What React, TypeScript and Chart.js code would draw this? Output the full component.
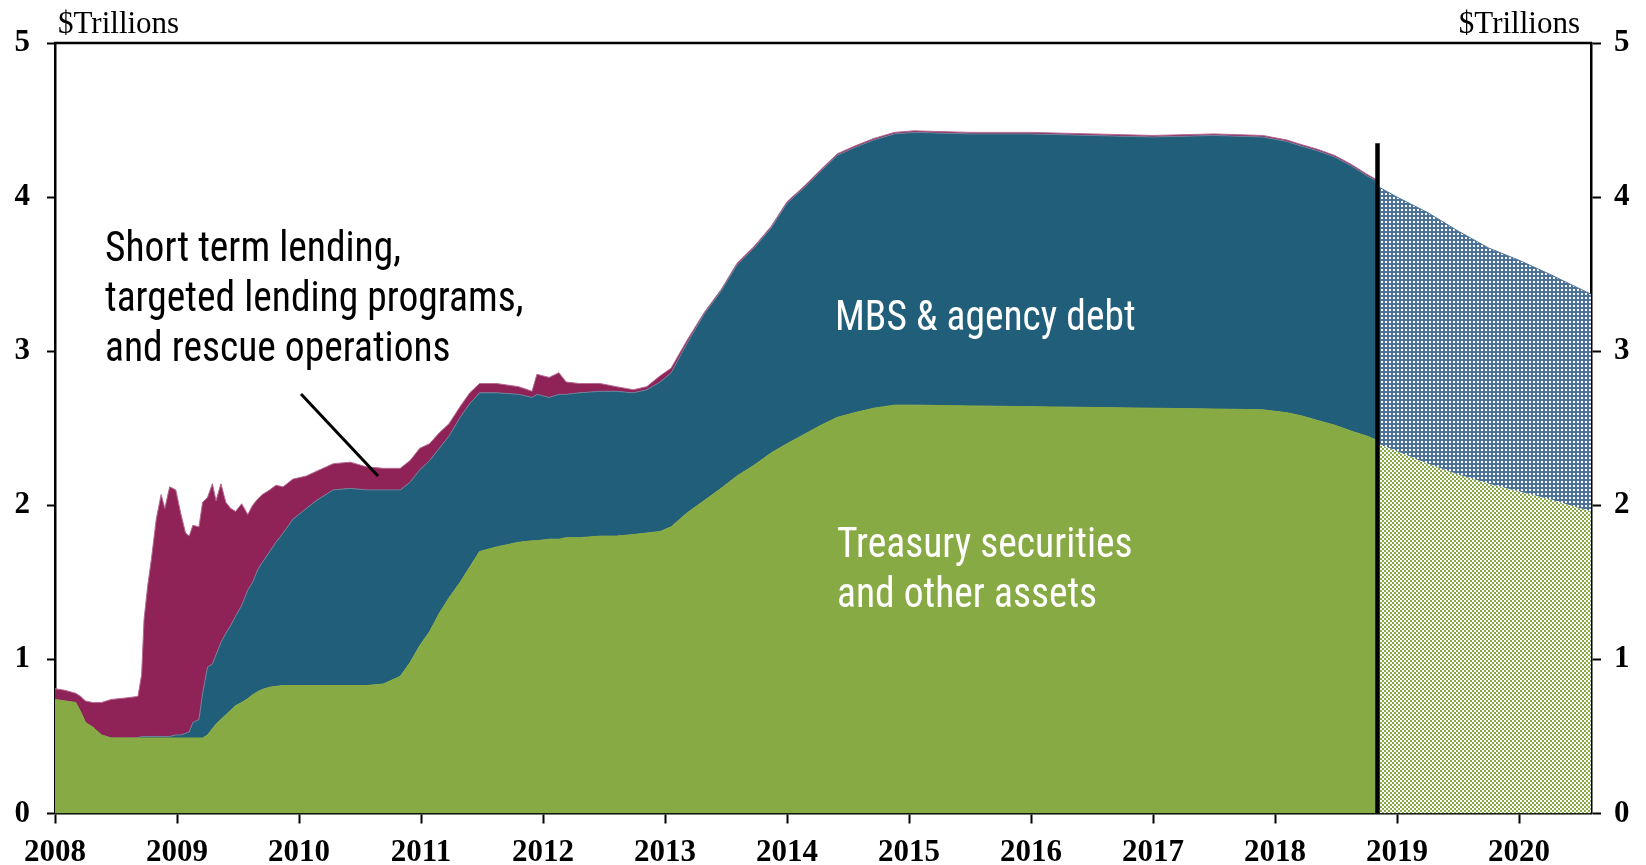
import { useEffect, useRef } from 'react';
import { Chart, registerables } from 'chart.js';

Chart.register(...registerables);

// ---------- data (trillions of dollars) ----------
const histDates = [
  2008.0, 2008.08, 2008.17, 2008.21, 2008.25, 2008.31, 2008.38, 2008.46, 2008.58, 2008.68,
  2008.71, 2008.73, 2008.76, 2008.79, 2008.83, 2008.87, 2008.9, 2008.94, 2008.99, 2009.03,
  2009.07, 2009.1, 2009.13, 2009.18, 2009.21, 2009.25, 2009.29, 2009.32, 2009.36, 2009.4,
  2009.44, 2009.48, 2009.53, 2009.58, 2009.62, 2009.66, 2009.7, 2009.76, 2009.81, 2009.87,
  2009.95, 2010.06, 2010.14, 2010.28, 2010.42, 2010.55, 2010.69, 2010.83, 2010.91, 2010.99,
  2011.07, 2011.15, 2011.23, 2011.32, 2011.4, 2011.48, 2011.62, 2011.8, 2011.91, 2011.95,
  2012.05, 2012.13, 2012.19, 2012.3, 2012.47, 2012.6, 2012.74, 2012.85, 2012.96, 2013.05,
  2013.18, 2013.32, 2013.46, 2013.59, 2013.73, 2013.87, 2014.0, 2014.14, 2014.28, 2014.41,
  2014.55, 2014.71, 2014.88, 2015.04, 2015.5, 2016.0, 2016.5, 2017.0, 2017.5, 2017.9,
  2018.1, 2018.22, 2018.35, 2018.49, 2018.63, 2018.75, 2018.84,
];
const histTreasury = [
  0.74, 0.73, 0.72, 0.66, 0.59, 0.56, 0.51, 0.49, 0.49, 0.49,
  0.49, 0.49, 0.49, 0.49, 0.49, 0.49, 0.49, 0.49, 0.49, 0.49,
  0.49, 0.49, 0.49, 0.49, 0.49, 0.51, 0.55, 0.58, 0.61, 0.64,
  0.67, 0.7, 0.72, 0.745, 0.77, 0.79, 0.805, 0.82, 0.825, 0.83,
  0.83, 0.83, 0.83, 0.83, 0.83, 0.83, 0.84, 0.89, 0.98, 1.09,
  1.18, 1.3, 1.4, 1.5, 1.6, 1.7, 1.73, 1.76, 1.77, 1.77,
  1.78, 1.78, 1.79, 1.79, 1.8, 1.8, 1.81, 1.82, 1.83, 1.86,
  1.95, 2.03, 2.11, 2.19, 2.26, 2.34, 2.4, 2.46, 2.52, 2.57,
  2.6, 2.63, 2.65, 2.65, 2.645, 2.64, 2.635, 2.63, 2.625, 2.62,
  2.6, 2.58, 2.55, 2.52, 2.48, 2.45, 2.42,
];
const histMBS = [
  0, 0, 0, 0, 0, 0, 0, 0, 0, 0,
  0.01, 0.01, 0.01, 0.01, 0.01, 0.01, 0.01, 0.01, 0.02, 0.02,
  0.03, 0.04, 0.1, 0.12, 0.29, 0.44, 0.42, 0.45, 0.5, 0.53,
  0.55, 0.58, 0.63, 0.705, 0.73, 0.79, 0.825, 0.88, 0.935, 0.99,
  1.08, 1.15, 1.2, 1.27, 1.28, 1.27, 1.26, 1.21, 1.17, 1.14,
  1.11, 1.07, 1.05, 1.07, 1.06, 1.03, 1.0, 0.96, 0.93, 0.95,
  0.92, 0.94, 0.93, 0.94, 0.94, 0.94, 0.92, 0.93, 0.97, 1.0,
  1.1, 1.21, 1.28, 1.37, 1.41, 1.46, 1.56, 1.6, 1.65, 1.7,
  1.72, 1.74, 1.76, 1.77, 1.765, 1.77, 1.765, 1.76, 1.775, 1.77,
  1.76, 1.75, 1.75, 1.74, 1.72, 1.69, 1.68,
];
const histLending = [
  0.07, 0.07, 0.06, 0.1, 0.14, 0.16, 0.21, 0.25, 0.26, 0.27,
  0.4, 0.76, 0.98, 1.15, 1.41, 1.57, 1.48, 1.62, 1.59, 1.44,
  1.3, 1.27, 1.28, 1.25, 1.24, 1.1, 1.17, 1.0, 1.03, 0.85,
  0.76, 0.68, 0.66, 0.49, 0.5, 0.46, 0.44, 0.4, 0.37, 0.3,
  0.26, 0.21, 0.19, 0.17, 0.17, 0.15, 0.14, 0.14, 0.14, 0.14,
  0.11, 0.1, 0.08, 0.07, 0.07, 0.06, 0.06, 0.05, 0.04, 0.13,
  0.13, 0.14, 0.08, 0.06, 0.05, 0.03, 0.02, 0.02, 0.04, 0.03,
  0.02, 0.01, 0.01, 0.01, 0.01, 0.01, 0.01, 0.01, 0.01, 0.01,
  0.01, 0.01, 0.01, 0.01, 0.01, 0.01, 0.01, 0.01, 0.01, 0.01,
  0.01, 0.01, 0.01, 0.01, 0.01, 0.01, 0.01,
];
const projDates = [2018.84, 2019.0, 2019.25, 2019.5, 2019.75, 2020.0, 2020.25, 2020.59];
const projTreasury = [2.4, 2.35, 2.27, 2.2, 2.14, 2.09, 2.04, 1.96];
const projMBS = [1.67, 1.65, 1.63, 1.58, 1.53, 1.5, 1.46, 1.41];

const yearTicks = [2008, 2009, 2010, 2011, 2012, 2013, 2014, 2015, 2016, 2017, 2018, 2019, 2020];
const valueTicks = [0, 1, 2, 3, 4, 5];
const xMin = 2008;
const xMax = 2020.59;
const projectionStart = 2018.84;
const projectionMarkerTop = 4.35;

const unitLabel = '$Trillions';
const lendingLabel = ['Short term lending,', 'targeted lending programs,', 'and rescue operations'];
const mbsLabel = ['MBS & agency debt'];
const treasuryLabel = ['Treasury securities', 'and other assets'];

// ---------- styles ----------
const GREEN = '#88aa44';
const BLUE = '#215e79';
const MAROON = '#8f2257';
const PATTERN_BLUE = '#4d7299';
const SERIF = '"Liberation Serif", "Times New Roman", serif';
const NARROW = '"Liberation Sans Narrow", "Arial Narrow", "Roboto Condensed", Roboto, sans-serif';

function makePattern(base: string, checker: boolean): CanvasPattern | string {
  const c = document.createElement('canvas');
  c.width = 4;
  c.height = 4;
  const g = c.getContext('2d');
  if (!g) return base;
  g.fillStyle = base;
  g.fillRect(0, 0, 4, 4);
  g.fillStyle = '#ffffff';
  if (checker) {
    g.fillRect(0, 0, 2, 2);
    g.fillRect(2, 2, 2, 2);
  } else {
    g.fillRect(1, 1, 2, 2);
  }
  const p = g.createPattern(c, 'repeat');
  return p || base;
}

const pts = (xs: number[], ys: number[]) => xs.map((x, i) => ({ x, y: ys[i] }));

export default function App() {
  const ref = useRef<HTMLCanvasElement | null>(null);

  useEffect(() => {
    const canvas = ref.current;
    if (!canvas) return;

    const greenPattern = makePattern(GREEN, true);
    const bluePattern = makePattern(PATTERN_BLUE, false);

    const annotations = {
      id: 'annotations',
      afterDatasetsDraw(chart: any) {
        const ctx = chart.ctx as CanvasRenderingContext2D;
        const xs = chart.scales.x;
        const ys = chart.scales.y;
        const area = chart.chartArea;
        ctx.save();

        // projection marker
        const px = xs.getPixelForValue(projectionStart);
        ctx.strokeStyle = '#000';
        ctx.lineWidth = 4.5;
        ctx.beginPath();
        ctx.moveTo(px, ys.getPixelForValue(0));
        ctx.lineTo(px, ys.getPixelForValue(projectionMarkerTop));
        ctx.stroke();

        // top frame line
        ctx.lineWidth = 2.5;
        ctx.beginPath();
        ctx.moveTo(area.left - 1, area.top);
        ctx.lineTo(area.right + 1, area.top);
        ctx.stroke();

        // unit labels
        ctx.fillStyle = '#000';
        ctx.font = `31px ${SERIF}`;
        ctx.textBaseline = 'alphabetic';
        ctx.textAlign = 'left';
        ctx.fillText(unitLabel, 58, 33);
        ctx.textAlign = 'right';
        ctx.fillText(unitLabel, 1580, 33);

        // series labels
        ctx.font = `42px ${NARROW}`;
        ctx.textAlign = 'left';
        const measured = ctx.measureText(lendingLabel[0]).width;
        const sx = Math.min(1, 296 / measured);
        const drawLines = (lines: string[], x: number, y0: number, color: string) => {
          ctx.fillStyle = color;
          lines.forEach((line, i) => {
            ctx.save();
            ctx.translate(x, y0 + i * 50);
            ctx.scale(sx, 1);
            ctx.fillText(line, 0, 0);
            ctx.restore();
          });
        };
        drawLines(lendingLabel, 105, 261, '#000');
        drawLines(mbsLabel, 835, 330, '#fff');
        drawLines(treasuryLabel, 837, 557, '#fff');

        // pointer
        ctx.strokeStyle = '#000';
        ctx.lineWidth = 3;
        ctx.beginPath();
        ctx.moveTo(301, 394);
        ctx.lineTo(378, 476);
        ctx.stroke();

        ctx.restore();
      },
    };

    const tickFont = { family: SERIF, size: 31, weight: 'bold' as const };

    const chart = new Chart(canvas, {
      type: 'line',
      data: {
        datasets: [
          {
            label: 'Treasury securities and other assets',
            data: pts(histDates, histTreasury),
            stack: 'hist',
            fill: 'origin',
            backgroundColor: GREEN,
            borderColor: GREEN,
            borderWidth: 1,
          },
          {
            label: 'MBS & agency debt',
            data: pts(histDates, histMBS),
            stack: 'hist',
            fill: '-1',
            backgroundColor: BLUE,
            borderColor: '#6f7f99',
            borderWidth: 1,
          },
          {
            label: 'Short term lending',
            data: pts(histDates, histLending),
            stack: 'hist',
            fill: '-1',
            backgroundColor: MAROON,
            borderColor: '#b56a93',
            borderWidth: 1,
          },
          {
            label: 'Treasury (projected)',
            data: pts(projDates, projTreasury),
            stack: 'proj',
            fill: 'origin',
            backgroundColor: greenPattern as any,
            borderColor: GREEN,
            borderWidth: 0,
          },
          {
            label: 'MBS (projected)',
            data: pts(projDates, projMBS),
            stack: 'proj',
            fill: '-1',
            backgroundColor: bluePattern as any,
            borderColor: PATTERN_BLUE,
            borderWidth: 1,
          },
        ] as any,
      },
      options: {
        responsive: false,
        animation: false,
        events: [],
        elements: { point: { radius: 0 }, line: { tension: 0 } },
        layout: { padding: { top: 43, left: 0, right: 0, bottom: 0 } },
        plugins: { legend: { display: false }, tooltip: { enabled: false }, title: { display: false } },
        scales: {
          x: {
            type: 'linear',
            min: xMin,
            max: xMax,
            afterBuildTicks: (s: any) => {
              s.ticks = yearTicks.map((v) => ({ value: v }));
            },
            afterFit: (s: any) => {
              s.height = 51.5;
            },
            ticks: {
              autoSkip: false,
              maxRotation: 0,
              padding: 11,
              color: '#000',
              font: tickFont,
              callback: (v: any) => String(v),
            },
            grid: { drawOnChartArea: false, drawTicks: true, tickLength: 10, tickColor: '#000', tickWidth: 2 },
            border: { display: true, color: '#000', width: 2.5 },
          },
          y: {
            type: 'linear',
            position: 'left',
            stacked: true,
            min: 0,
            max: 5,
            afterBuildTicks: (s: any) => {
              s.ticks = valueTicks.map((v) => ({ value: v }));
            },
            afterFit: (s: any) => {
              s.width = 55;
            },
            ticks: { padding: 17, color: '#000', font: tickFont, callback: (v: any) => String(v) },
            grid: { drawOnChartArea: false, drawTicks: true, tickLength: 8, tickColor: '#000', tickWidth: 2 },
            border: { display: true, color: '#000', width: 2.5 },
          },
          y2: {
            type: 'linear',
            position: 'right',
            min: 0,
            max: 5,
            afterBuildTicks: (s: any) => {
              s.ticks = valueTicks.map((v) => ({ value: v }));
            },
            afterFit: (s: any) => {
              s.width = 55;
            },
            ticks: { padding: 13, color: '#000', font: tickFont, callback: (v: any) => String(v) },
            grid: { drawOnChartArea: false, drawTicks: true, tickLength: 10, tickColor: '#000', tickWidth: 2 },
            border: { display: true, color: '#000', width: 2.5 },
          },
        },
      } as any,
      plugins: [annotations],
    });

    return () => chart.destroy();
  }, []);

  return (
    <div style={{ position: 'absolute', left: 0, top: 0, width: 1646, height: 865, background: '#fff' }}>
      <canvas ref={ref} width={1646} height={865} style={{ display: 'block', width: 1646, height: 865 }} />
    </div>
  );
}
